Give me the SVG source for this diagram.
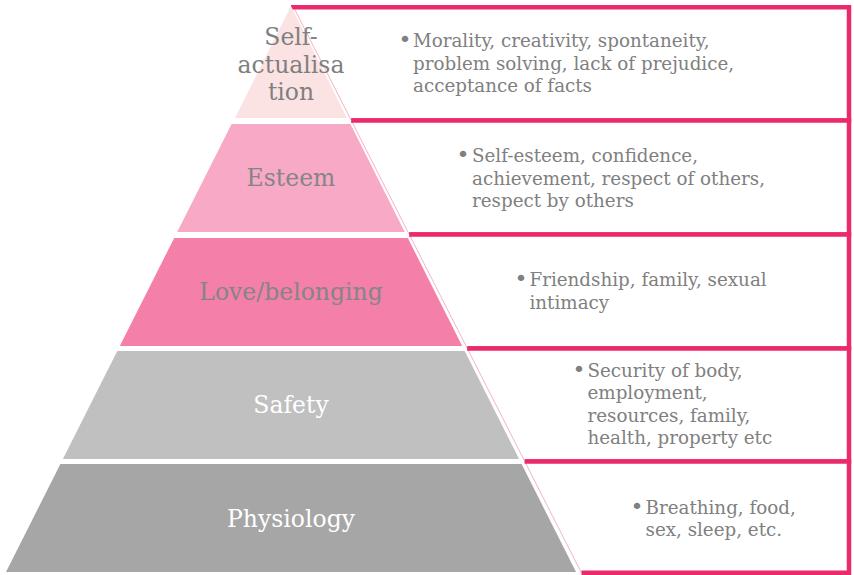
<svg xmlns="http://www.w3.org/2000/svg" width="854" height="575" viewBox="0 0 854 575">
<style>
.lvl-label{font-family:"DejaVu Serif","Liberation Serif",serif;font-size:23.5px;text-anchor:middle}
.body{font-family:"DejaVu Serif","Liberation Serif",serif;font-size:18.3px;fill:#808080}
.bullet{font-family:"DejaVu Sans","Liberation Sans",sans-serif;font-size:22px;fill:#808080;text-anchor:middle}
.border{fill:none;stroke:#eb2a6e;stroke-width:4.5;stroke-linejoin:miter}
.edge{stroke:#f5b3c8;stroke-width:1}
.boxbg{fill:#ffffff}
</style>
<rect width="854" height="575" fill="#ffffff"/>

<g id="box-self-actualisation">
<polygon class="boxbg" points="293.5,7 849,7 849,120.5 351.3,120.5"/>
<line class="edge" x1="293.5" y1="7" x2="351.3" y2="120.5"/>
<polyline class="border" points="291,7.25 849,7.25 849,120.5 351.3,120.5"/>
<text class="bullet" x="405" y="47">•</text>
<text class="body"><tspan x="413" y="47">Morality, creativity, spontaneity,</tspan><tspan x="413" y="69.5">problem solving, lack of prejudice,</tspan><tspan x="413" y="92">acceptance of facts</tspan></text>
</g>
<g id="box-esteem">
<polygon class="boxbg" points="351.3,120.5 849,120.5 849,234.5 409.3,234.5"/>
<line class="edge" x1="351.3" y1="120.5" x2="409.3" y2="234.5"/>
<polyline class="border" points="351.3,120.5 849,120.5 849,234.5 409.3,234.5"/>
<text class="bullet" x="463" y="162">•</text>
<text class="body"><tspan x="472" y="162">Self-esteem, confidence,</tspan><tspan x="472" y="184.5">achievement, respect of others,</tspan><tspan x="472" y="207">respect by others</tspan></text>
</g>
<g id="box-love">
<polygon class="boxbg" points="409.3,234.5 849,234.5 849,348.5 467.3,348.5"/>
<line class="edge" x1="409.3" y1="234.5" x2="467.3" y2="348.5"/>
<polyline class="border" points="409.3,234.5 849,234.5 849,348.5 467.3,348.5"/>
<text class="bullet" x="521" y="286">•</text>
<text class="body"><tspan x="529.5" y="286">Friendship, family, sexual</tspan><tspan x="529.5" y="309">intimacy</tspan></text>
</g>
<g id="box-safety">
<polygon class="boxbg" points="467.3,348.5 849,348.5 849,461.5 524.8,461.5"/>
<line class="edge" x1="467.3" y1="348.5" x2="524.8" y2="461.5"/>
<polyline class="border" points="467.3,348.5 849,348.5 849,461.5 524.8,461.5"/>
<text class="bullet" x="579" y="376.5">•</text>
<text class="body"><tspan x="587.5" y="376.5">Security of body,</tspan><tspan x="587.5" y="399">employment,</tspan><tspan x="587.5" y="421.5">resources, family,</tspan><tspan x="587.5" y="444">health, property etc</tspan></text>
</g>
<g id="box-physiology">
<polygon class="boxbg" points="524.8,461.5 849,461.5 849,572.8 581.5,572.8"/>
<line class="edge" x1="524.8" y1="461.5" x2="581.5" y2="573"/>
<polyline class="border" points="524.8,461.5 849,461.5 849,572.8 581.5,572.8"/>
<text class="bullet" x="637" y="513.5">•</text>
<text class="body"><tspan x="645.5" y="513.5">Breathing, food,</tspan><tspan x="645.5" y="536">sex, sleep, etc.</tspan></text>
</g>

<g id="level-self-actualisation">
<polygon points="291,6 347,118 235,118" fill="#fce3e3"/>
<text class="lvl-label" fill="#7f7f7f"><tspan x="291" y="45">Self-</tspan><tspan x="291" y="72.5">actualisa</tspan><tspan x="291" y="100">tion</tspan></text>
</g>
<g id="level-esteem">
<polygon points="231.6,124 350.4,124 404.8,232 177.2,232" fill="#f7a9c5"/>
<text class="lvl-label" fill="#858585" x="291" y="186">Esteem</text>
</g>
<g id="level-love">
<polygon points="174.2,238 407.8,238 462.2,346 119.8,346" fill="#f47fa9"/>
<text class="lvl-label" fill="#858585" x="291" y="300">Love/belonging</text>
</g>
<g id="level-safety">
<polygon points="117.3,351 464.7,351 519.1,459 62.9,459" fill="#c0c0c0"/>
<text class="lvl-label" fill="#ffffff" x="291" y="413">Safety</text>
</g>
<g id="level-physiology">
<polygon points="60.4,464 521.6,464 576,572 6,572" fill="#a6a6a6"/>
<text class="lvl-label" fill="#ffffff" x="291" y="527">Physiology</text>
</g>
</svg>
